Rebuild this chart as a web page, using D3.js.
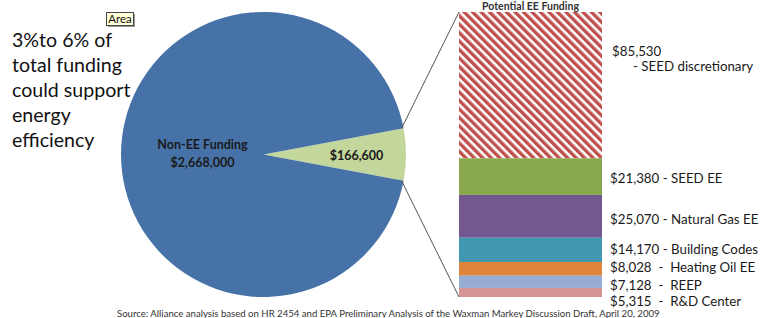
<!DOCTYPE html>
<html><head><meta charset="utf-8">
<script src="https://cdn.jsdelivr.net/npm/d3@7/dist/d3.min.js"></script>
<style>
html,body{margin:0;padding:0;background:#fff;}
svg{display:block;}
text{font-family:Lato,"Open Sans",sans-serif;}
</style></head>
<body>
<svg id="c" width="760" height="318"></svg>
<script>
// ---- data ----
const pieCategories = ["EE Funding", "Non-EE Funding"];
const pieValues = [166600, 2668000];
const pieLabels = ["$166,600", "$2,668,000"];

const barCategories = ["SEED discretionary", "SEED EE", "Natural Gas EE", "Building Codes", "Heating Oil EE", "REEP", "R&D Center"];
const barValues = [85530, 21380, 25070, 14170, 8028, 7128, 5315];
const barValueLabels = ["$85,530", "$21,380", "$25,070", "$14,170", "$8,028", "$7,128", "$5,315"];

const sideText = ["3%to 6% of", "total funding", "could support", "energy", "efficiency"];
const barTitle = "Potential EE Funding";
const sourceText = "Source: Alliance analysis based on HR 2454 and EPA Preliminary Analysis of the Waxman Markey Discussion Draft, April 20, 2009";

// ---- styles / layout ----
const pieColors = ["#c3d69b", "#4672a8"];
const barColors = ["#c0504d", "#8aa84e", "#72588f", "#4298b0", "#df853b", "#95add4", "#d59593"];
const labelDy = [-29, 6, 8, 4, 3, 8, 14]; // baseline offsets from segment middle

const svg = d3.select("#c");

// hatch pattern
const defs = svg.append("defs");
const pat = defs.append("pattern").attr("id","hatch").attr("patternUnits","userSpaceOnUse")
  .attr("width",6).attr("height",6).attr("patternTransform","rotate(-45)");
pat.append("rect").attr("width",6).attr("height",6).attr("fill","#ffffff");
pat.append("rect").attr("width",3.4).attr("height",6).attr("fill",barColors[0]);

// ---- pie ----
const cx = 263.5, cy = 154.5, R = 142.5;
const total = d3.sum(pieValues);
const span = 2*Math.PI*pieValues[0]/total;
const pie = d3.pie().sort(null).value(d=>d)
  .startAngle(Math.PI/2 - span/2).endAngle(Math.PI/2 - span/2 + 2*Math.PI);
const arcs = pie(pieValues);
const arc = d3.arc().innerRadius(0).outerRadius(R);
const gp = svg.append("g").attr("transform",`translate(${cx},${cy})`);
gp.selectAll("path").data(arcs).join("path")
  .attr("d",arc).attr("fill",(d,i)=>pieColors[i]);

// pie labels
gp.append("text").attr("x",93).attr("y",5).attr("text-anchor","middle")
  .attr("font-size",12.5).attr("font-weight","bold").attr("fill","#1a1a1a").text(pieLabels[0]);
const nl = gp.append("text").attr("x",-61).attr("y",-6).attr("text-anchor","middle")
  .attr("font-size",12.5).attr("font-weight","bold").attr("fill","#1a1a1a");
nl.append("tspan").attr("x",-61).attr("dy",0).text(pieCategories[1]);
nl.append("tspan").attr("x",-61).attr("dy",18).text(pieLabels[1]);

// ---- stacked bar ----
const barX0 = 459, barW = 143;
const barTotal = d3.sum(barValues);
const y = d3.scaleLinear().domain([0, barTotal]).range([297, 12]);
let cum = 0;
const segs = [];
for (let i = barValues.length-1; i >= 0; i--) {
  segs[i] = {i, y0: cum, y1: cum + barValues[i]};
  cum += barValues[i];
}
svg.append("g").selectAll("rect").data(segs).join("rect")
  .attr("x",barX0).attr("width",barW)
  .attr("y",d=>y(d.y1)).attr("height",d=>y(d.y0)-y(d.y1))
  .attr("fill",d=>d.i===0 ? "url(#hatch)" : barColors[d.i]);

// connector lines
const a0 = arcs[0].startAngle, a1 = arcs[0].endAngle;
const pt = a => [cx + R*Math.sin(a), cy - R*Math.cos(a)];
const p0 = pt(a0), p1 = pt(a1);
svg.append("line").attr("x1",p0[0]-2).attr("y1",p0[1]).attr("x2",barX0).attr("y2",y(barTotal))
  .attr("stroke","#555").attr("stroke-width",1);
svg.append("line").attr("x1",p1[0]-2).attr("y1",p1[1]).attr("x2",barX0).attr("y2",y(0))
  .attr("stroke","#555").attr("stroke-width",1);

// bar labels
const lg = svg.append("g").attr("font-size",13.3).attr("fill","#1a1a1a");
segs.forEach(d=>{
  const ym = (y(d.y0)+y(d.y1))/2 + labelDy[d.i];
  if (d.i === 0) {
    lg.append("text").attr("x",612).attr("y",ym).text(barValueLabels[0]);
    lg.append("text").attr("x",633).attr("y",ym+15).text("- " + barCategories[0]);
  } else {
    lg.append("text").attr("x",610).attr("y",ym).attr("xml:space","preserve")
      .text(barValueLabels[d.i] + (barValueLabels[d.i].length < 7 ? "  -  " : " - ") + barCategories[d.i]);
  }
});

// bar title
svg.append("text").attr("x",barX0+barW/2).attr("y",9.5).attr("text-anchor","middle")
  .attr("font-size",10.5).attr("font-weight","bold").attr("fill","#333").text(barTitle);

// side text
const st = svg.append("text").attr("x",12).attr("y",47).attr("font-size",19.6).attr("fill","#111");
sideText.forEach((t,i)=>st.append("tspan").attr("x",12).attr("y",47+i*25).text(t));

// "Area" tooltip
const tip = svg.append("g");
tip.append("rect").attr("x",108).attr("y",14).attr("width",27).attr("height",13).attr("fill","#999");
tip.append("rect").attr("x",106.5).attr("y",12.5).attr("width",27).attr("height",13)
  .attr("fill","#ffffd8").attr("stroke","#444").attr("stroke-width",1);
tip.append("text").attr("x",120).attr("y",23).attr("text-anchor","middle")
  .attr("font-size",11.5).attr("fill","#111").text("Area");

// source
svg.append("text").attr("x",117).attr("y",316.5).attr("font-family","Liberation Sans, Arial, sans-serif")
  .attr("font-size",9.6).attr("fill","#333").text(sourceText);
</script>
</body></html>
